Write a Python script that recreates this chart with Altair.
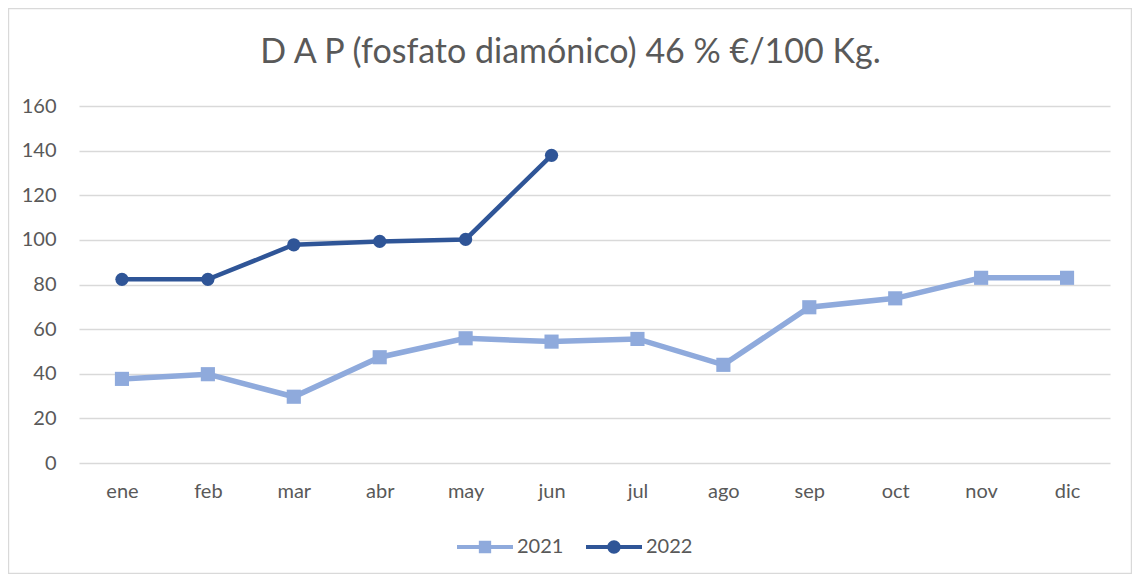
import altair as alt
import pandas as pd

meses = ["ene", "feb", "mar", "abr", "may", "jun", "jul", "ago", "sep", "oct", "nov", "dic"]
v2021 = [37.7, 39.8, 29.7, 47.4, 55.9, 54.4, 55.6, 44.0, 69.8, 73.8, 83.0, 83.0]
v2022 = [82.3, 82.3, 97.8, 99.3, 100.2, 137.9]
series = ["2021", "2022"]
colors = ["#8FAADC", "#2F5597"]
y_ticks = [0, 20, 40, 60, 80, 100, 120, 140, 160]

rows = [{"mes": m, "serie": "2021", "valor": v} for m, v in zip(meses, v2021)]
rows += [{"mes": m, "serie": "2022", "valor": v} for m, v in zip(meses, v2022)]
df = pd.DataFrame(rows)

FONT = "Lato"
GREY = "#595959"
W, H = 1031, 357
PAD = {"left": 71, "top": 98, "right": 22, "bottom": 111}

x = alt.X("mes:N", sort=meses, title=None,
          scale=alt.Scale(type="point", domain=meses, padding=0.5),
          axis=alt.Axis(labelAngle=0, domain=False, ticks=False, grid=False,
                        labelPadding=18, labelFontSize=20, labelColor=GREY, labelFont=FONT))
y = alt.Y("valor:Q", title=None,
          scale=alt.Scale(domain=[0, 160], nice=False),
          axis=alt.Axis(values=y_ticks, domain=False, ticks=False, grid=True,
                        gridColor="#d9d9d9", gridWidth=1.3, labelPadding=23,
                        labelFontSize=20, labelColor=GREY, labelFont=FONT))

base = alt.Chart(df)

border = alt.Chart(alt.Data(values=[{"a": 1}])).mark_rect(
    fill=None, stroke="#d9d9d9", strokeWidth=1.2
).encode(
    x=alt.value(-PAD["left"] + 0.6), x2=alt.value(W + PAD["right"] - 0.6),
    y=alt.value(-PAD["top"] + 0.6), y2=alt.value(H + PAD["bottom"] - 0.6),
)

def series_layers(s, color, width, shape, size):
    d = base.transform_filter(alt.datum.serie == s)
    line = d.mark_line(color=color, strokeWidth=width).encode(x=x, y=y)
    pts = d.mark_point(filled=True, opacity=1, color=color, shape=shape, size=size).encode(x=x, y=y)
    return line + pts

l21 = series_layers("2021", colors[0], 5.5, "square", 200)
l22 = series_layers("2022", colors[1], 4.5, "circle", 175)

sq_path = ("M-1,-0.075L1,-0.075L1,0.075L-1,0.075Z "
           "M-0.22,-0.22L0.22,-0.22L0.22,0.22L-0.22,0.22Z")
ci_path = ("M-1,-0.07L1,-0.07L1,0.07L-1,0.07Z "
           "M0.24,0A0.24,0.24 0 1,1 -0.24,0A0.24,0.24 0 1,1 0.24,0Z")

legend_layer = base.transform_filter("false").mark_point(filled=True, opacity=1).encode(
    x=alt.X("mes:N", sort=meses),
    y=alt.Y("valor:Q"),
    color=alt.Color("serie:N", scale=alt.Scale(domain=series, range=colors),
                    legend=alt.Legend(title=None)),
    shape=alt.Shape("serie:N", scale=alt.Scale(domain=series, range=[sq_path, ci_path]),
                    legend=alt.Legend(title=None)),
)

chart = alt.layer(border, l21, l22, legend_layer).properties(
    width=W, height=H,
    autosize=alt.AutoSizeParams(type="none"),
    padding=PAD,
    title=alt.TitleParams("D A P (fosfato diamónico) 46 % €/100 Kg.", fontSize=34,
                          font=FONT, fontWeight="normal", color=GREY, anchor="middle",
                          baseline="alphabetic", offset=-89, dx=-24),
).configure_view(stroke=None).configure_legend(
    orient="none", legendX=378, legendY=413, direction="horizontal",
    symbolSize=3136, symbolStrokeWidth=0, labelFontSize=20, labelColor=GREY,
    labelFont=FONT, labelOffset=4, columnPadding=22, padding=0,
)

chart.save("out.html", embed_options={"renderer": "svg", "actions": False})
